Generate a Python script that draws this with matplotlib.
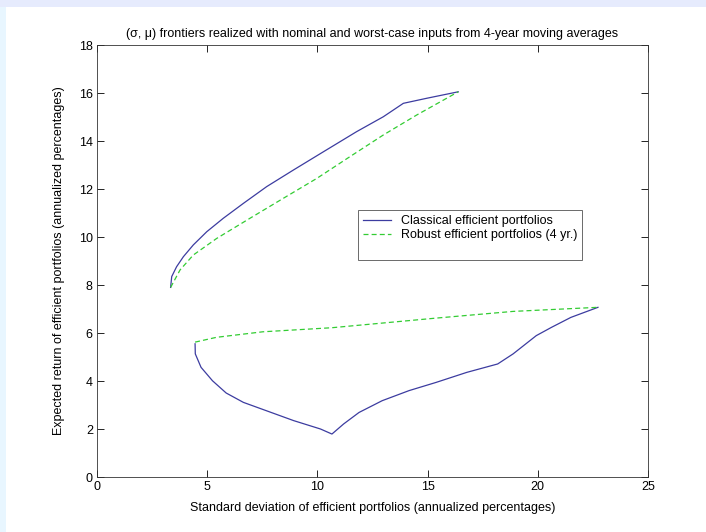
import numpy as np
import matplotlib.pyplot as plt
from matplotlib.patches import Rectangle
from matplotlib.lines import Line2D

plt.rcParams['font.family'] = ['Liberation Sans Narrow', 'Liberation Sans', 'DejaVu Sans']

# classical frontier, upper branch (sigma, mu)
cl_up_x = [3.34, 3.39, 3.61, 3.92, 4.37, 4.98, 5.73, 6.64, 7.70, 8.91, 10.27, 11.78, 12.99, 13.90, 14.96, 16.39]
cl_up_y = [7.90, 8.35, 8.76, 9.18, 9.67, 10.22, 10.78, 11.40, 12.10, 12.79, 13.55, 14.39, 15.01, 15.57, 15.78, 16.05]

# classical frontier, lower branch
cl_lo_x = [4.45, 4.46, 4.72, 5.24, 5.86, 6.64, 7.69, 8.92, 10.14, 10.66, 11.19, 11.89, 12.94, 14.16, 15.38, 16.78, 18.18, 18.88, 19.93, 20.63, 21.50, 22.73]
cl_lo_y = [5.55, 5.13, 4.57, 4.01, 3.50, 3.11, 2.76, 2.35, 2.00, 1.79, 2.21, 2.69, 3.18, 3.60, 3.94, 4.36, 4.71, 5.13, 5.89, 6.24, 6.65, 7.07]

# robust frontier (4 yr.), upper branch
rb_up_x = [3.34, 3.77, 4.37, 5.43, 6.94, 8.45, 9.97, 11.48, 12.99, 14.50, 16.39]
rb_up_y = [7.90, 8.63, 9.25, 9.94, 10.78, 11.61, 12.44, 13.35, 14.25, 15.08, 16.05]

# robust frontier (4 yr.), lower branch
rb_lo_x = [4.45, 5.42, 7.52, 10.66, 15.38, 18.88, 22.73]
rb_lo_y = [5.62, 5.82, 6.05, 6.22, 6.62, 6.90, 7.07]

blue = '#3c3ca0'
green = '#33cc33'

fig = plt.figure(figsize=(7.06, 5.32), dpi=100, facecolor='white')
# light border strips of the original screenshot
fig.patches.append(Rectangle((0, 1 - 7 / 532), 1, 7 / 532, transform=fig.transFigure,
                             facecolor='#e6ebfd', edgecolor='none', zorder=-10))
fig.patches.append(Rectangle((0, 0), 6 / 706, 1 - 7 / 532, transform=fig.transFigure,
                             facecolor='#e8f6ff', edgecolor='none', zorder=-10))

ax = fig.add_axes([97 / 706, 1 - 477 / 532, 551 / 706, 432 / 532])

ax.plot(cl_up_x, cl_up_y, color=blue, linewidth=0.9)
ax.plot(cl_lo_x, cl_lo_y, color=blue, linewidth=0.9)
ax.plot(rb_up_x, rb_up_y, color=green, linewidth=0.9, linestyle=(0, (4, 2.5)))
ax.plot(rb_lo_x, rb_lo_y, color=green, linewidth=0.9, linestyle=(0, (4, 2.5)))

ax.set_xlim(0, 25)
ax.set_ylim(0, 18)
ax.set_xticks([0, 5, 10, 15, 20, 25])
ax.set_yticks(range(0, 19, 2))
ax.tick_params(direction='in', top=True, right=True, length=5, labelsize=9, width=0.6, pad=3)
for s in ax.spines.values():
    s.set_linewidth(0.6)
    s.set_color('#333333')

ax.set_title('(\u03c3, \u03bc) frontiers realized with nominal and worst-case inputs from 4-year moving averages',
             fontsize=9, pad=6)
ax.set_xlabel('Standard deviation of efficient portfolios (annualized percentages)', fontsize=9, labelpad=6)
ax.set_ylabel('Expected return of efficient portfolios (annualized percentages)', fontsize=9, labelpad=10)

handles = [Line2D([], [], color=blue, linewidth=0.9),
           Line2D([], [], color=green, linewidth=0.9, linestyle=(0, (4, 2.5))),
           Line2D([], [], color='white', linewidth=0.9)]
labels = ['Classical efficient portfolios', 'Robust efficient portfolios (4 yr.)', ' ']
leg = ax.legend(handles, labels, loc='upper left', bbox_to_anchor=(0.474, 0.618),
                fontsize=9, frameon=True, fancybox=False, handlelength=2.2,
                borderpad=0.4, labelspacing=0.15, handletextpad=0.8, borderaxespad=0)
leg.get_frame().set_edgecolor('#444444')
leg.get_frame().set_linewidth(0.7)

fig.savefig('out.png', dpi=100, facecolor=fig.get_facecolor())
